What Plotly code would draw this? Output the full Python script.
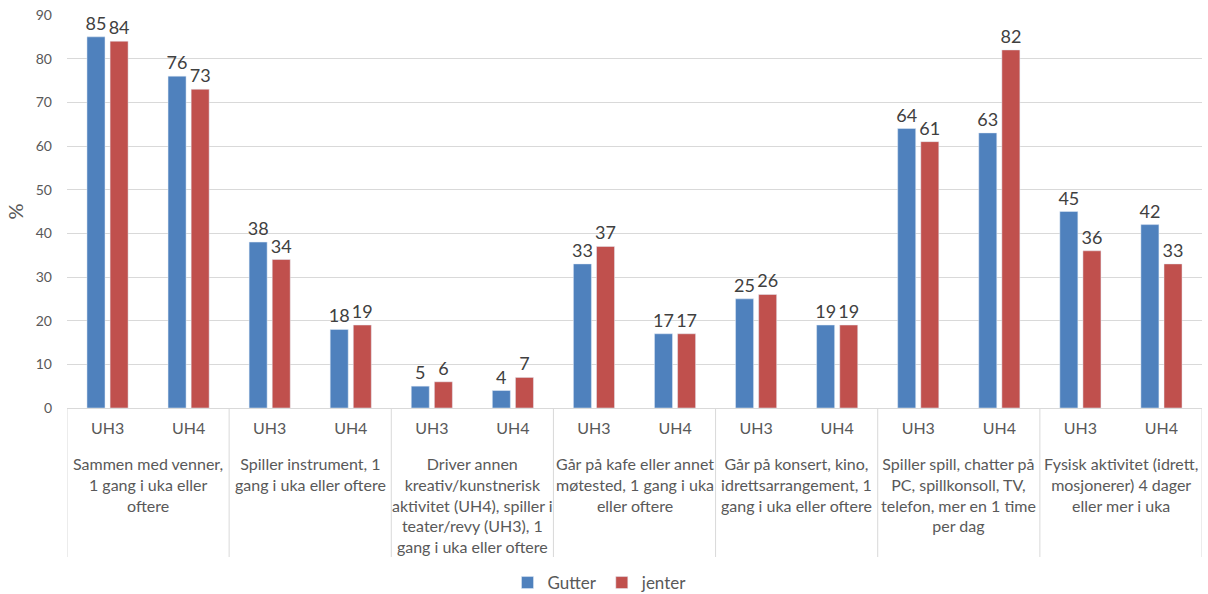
import plotly.graph_objects as go

# Activity groups (multi-line labels) and survey waves
groups = [
    "Sammen med venner,<br>1 gang i uka eller<br>oftere",
    "Spiller instrument, 1<br>gang i uka eller oftere",
    "Driver annen<br>kreativ/kunstnerisk<br>aktivitet (UH4), spiller i<br>teater/revy (UH3), 1<br>gang i uka eller oftere",
    "Går på kafe eller annet<br>møtested, 1 gang i uka<br>eller oftere",
    "Går på konsert, kino,<br>idrettsarrangement, 1<br>gang i uka eller oftere",
    "Spiller spill, chatter på<br>PC, spillkonsoll, TV,<br>telefon, mer en 1 time<br>per dag",
    "Fysisk aktivitet (idrett,<br>mosjonerer) 4 dager<br>eller mer i uka",
]
waves = ["UH3", "UH4"]

gutter = [85, 76, 38, 18, 5, 4, 33, 17, 25, 19, 64, 63, 45, 42]
jenter = [84, 73, 34, 19, 6, 7, 37, 17, 26, 19, 61, 82, 36, 33]

BLUE = "#4F81BD"
RED = "#C0504D"
FONT = "Lato"

n = len(groups) * len(waves)
xpos = list(range(n))
tick_text = [waves[i % len(waves)] for i in range(n)]

fig = go.Figure()
for name, vals, col in [("Gutter", gutter, BLUE), ("jenter", jenter, RED)]:
    fig.add_trace(go.Bar(
        x=xpos, y=vals, name=name, marker_color=col,
        text=vals, texttemplate="%{text}", textposition="outside",
        constraintext="none", cliponaxis=False,
        textfont=dict(family=FONT, size=18, color="#404040"),
    ))

shapes = []
annotations = []
for g, label in enumerate(groups):
    left = g * len(waves) - 0.5
    shapes.append(dict(type="line", xref="x", yref="paper",
                       x0=left, x1=left, y0=0, y1=-149 / 393,
                       line=dict(color="#D9D9D9", width=1)))
    annotations.append(dict(
        x=g * len(waves) + 0.5, xref="x", y=0, yref="paper",
        yshift=-44, yanchor="top", xanchor="center",
        text=label, showarrow=False, align="center",
        font=dict(family=FONT, size=16, color="#595959"),
    ))
right = n - 0.5
shapes.append(dict(type="line", xref="x", yref="paper",
                   x0=right, x1=right, y0=0, y1=-149 / 393,
                   line=dict(color="#D9D9D9", width=1)))

fig.update_layout(
    width=1208, height=594,
    margin=dict(l=67, r=6, t=15, b=186, autoexpand=False),
    plot_bgcolor="white", paper_bgcolor="white",
    barmode="group", bargap=0.43, bargroupgap=0.22,
    font=dict(family=FONT, color="#595959"),
    shapes=shapes, annotations=annotations,
    legend=dict(orientation="h", x=(600 - 67) / 1135, xanchor="center",
                xref="paper", y=-(583 - 408) / 393, yref="paper",
                yanchor="middle",
                font=dict(family=FONT, size=17, color="#595959"),
                itemwidth=30),
    showlegend=True,
)
fig.update_xaxes(
    range=[-0.5, n - 0.5], tickvals=xpos, ticktext=tick_text,
    showgrid=False, showline=True, linecolor="#D9D9D9", linewidth=1,
    ticks="", tickfont=dict(family=FONT, size=16, color="#595959"),
    ticklabelstandoff=6, zeroline=False,
)
fig.update_yaxes(
    range=[0, 90], dtick=10, showgrid=True, gridcolor="#D9D9D9",
    zeroline=False, showline=False, ticks="",
    tickfont=dict(family=FONT, size=14, color="#595959"),
    ticklabelstandoff=14,
    title=dict(text="%", font=dict(family=FONT, size=20, color="#595959"),
               standoff=6),
)

fig.write_html("out.html")
